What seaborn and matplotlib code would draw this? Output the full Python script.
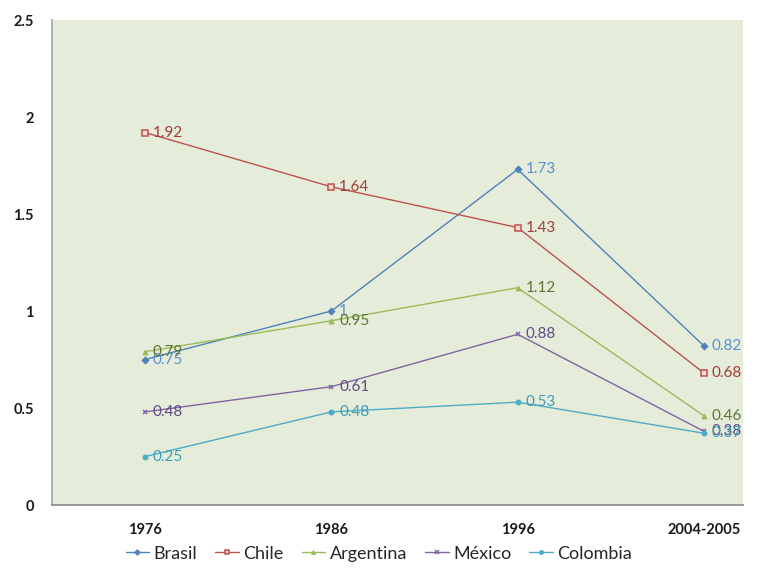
import numpy as np
import pandas as pd
import seaborn as sns
import matplotlib
matplotlib.use("Agg")
import matplotlib.pyplot as plt

# Values per country and census year
years = ["1976", "1986", "1996", "2004-2005"]
brasil = [0.75, 1, 1.73, 0.82]
chile = [1.92, 1.64, 1.43, 0.68]
argentina = [0.79, 0.95, 1.12, 0.46]
mexico = [0.48, 0.61, 0.88, 0.38]
colombia = [0.25, 0.48, 0.53, 0.37]
countries = ["Brasil", "Chile", "Argentina", "México", "Colombia"]
series = [brasil, chile, argentina, mexico, colombia]

line_colors = ["#4F81BD", "#C0504D", "#9BBB59", "#8064A2", "#4BACC6"]
label_colors = ["#5B8FD0", "#A23B36", "#5E7530", "#5D4A86", "#3F9DBA"]
markers = ["D", "s", "^", "x", "o"]

sns.set_theme(style="white")
plt.rcParams["font.family"] = ["Lato", "DejaVu Sans"]

df = pd.DataFrame({
    "pos": np.tile(np.arange(len(years)), len(countries)),
    "value": np.concatenate(series),
    "country": np.repeat(countries, len(years)),
})

fig = plt.figure(figsize=(7.83, 5.80), dpi=100)
ax = fig.add_axes([0.0664, 0.1293, 0.8826, 0.8362])
ax.set_facecolor("#E5EDDA")

for i, name in enumerate(countries):
    sub = df[df["country"] == name]
    mk = markers[i]
    kw = dict(marker=mk, markersize=3.5, color=line_colors[i], linewidth=1.0,
              markeredgecolor=line_colors[i])
    if mk == "s":
        kw.update(markerfacecolor="#F2DCDB", markeredgewidth=1.1, markersize=3.8)
    elif mk == "x":
        kw.update(markeredgewidth=1.1, markersize=3.5)
    sns.lineplot(data=sub, x="pos", y="value", ax=ax, label=name, **kw)
    for xp, v in zip(sub["pos"], sub["value"]):
        ax.annotate(f"{v:g}", (xp, v), xytext=(5.5, 0), textcoords="offset points",
                    va="center", ha="left", fontsize=11, color=label_colors[i])

ax.set_xlim(-0.5, 3.21)
ax.set_ylim(0, 2.5)
ax.set_xticks(range(len(years)))
ax.set_xticklabels(years)
ax.set_yticks([0, 0.5, 1, 1.5, 2, 2.5])
ax.set_yticklabels(["0", "0.5", "1", "1.5", "2", "2.5"])
ax.tick_params(axis="x", pad=13, labelsize=10.5, length=0, colors="#1A1A1A")
ax.tick_params(axis="y", pad=13, labelsize=10.5, length=0, colors="#1A1A1A")
for lab in ax.get_xticklabels() + ax.get_yticklabels():
    lab.set_fontweight("bold")
ax.set_xlabel("")
ax.set_ylabel("")
for s in ["top", "right"]:
    ax.spines[s].set_visible(False)
ax.spines["left"].set_color("#A6A6A6")
ax.spines["bottom"].set_color("#8C8C8C")
ax.grid(False)

ax.legend(loc="center", bbox_to_anchor=(0.473, -0.1), ncol=5, frameon=False,
          fontsize=13, handlelength=1.3, handletextpad=0.25, columnspacing=1.0,
          markerscale=0.8)

fig.savefig("out.png", dpi=100, facecolor="white")
